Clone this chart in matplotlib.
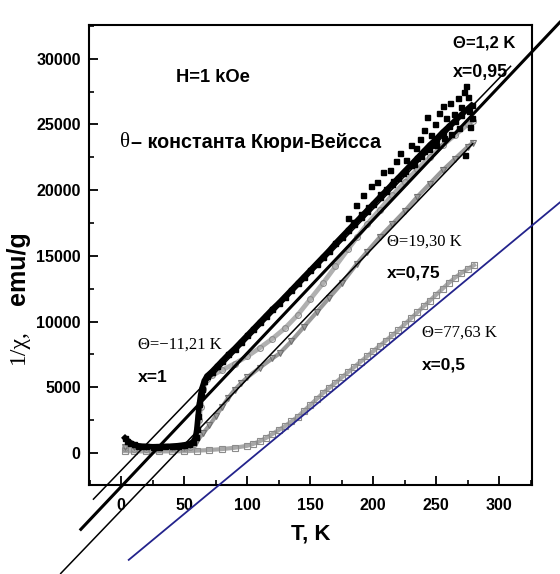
import matplotlib
matplotlib.use("Agg")
import matplotlib.pyplot as plt
from matplotlib import font_manager
from matplotlib.ticker import MultipleLocator

installed = {f.name for f in font_manager.fontManager.ttflist}
SANS = 'Liberation Sans Narrow' if 'Liberation Sans Narrow' in installed else 'Liberation Sans'
NARROW = SANS == 'Liberation Sans Narrow'
SERIF = 'Liberation Serif'


def fs(size):
    """Font size for the bold sans labels (the narrow face runs larger)."""
    return size * 1.2 if NARROW else size


# ---- inverse susceptibility data, 1/chi (emu/g)^-1 vs T (K) ----
# x = 1 : sharp step near 62 K
T_x1 = [3, 5, 7, 10, 13, 16, 20, 25, 30, 35, 40, 45, 50, 54, 57, 59, 60, 61, 62, 63,
        64, 66, 68, 72, 76, 80, 85, 90, 95, 100, 105, 110, 115, 120, 125, 130, 135,
        140, 145, 150, 155, 160, 165, 170, 175, 180, 185, 190, 195, 200, 205, 210,
        215, 220, 225, 230, 235, 240, 245, 250, 255, 260, 265, 270, 275, 278]
chi_x1 = [1150, 950, 800, 650, 560, 520, 500, 480, 490, 500, 520, 560, 620, 700, 850,
          1200, 1800, 2800, 3700, 4400, 4900, 5500, 5850, 6200, 6600, 7000, 7500, 7950,
          8450, 8950, 9450, 9950, 10450, 10950, 11400, 11900, 12400, 12900, 13400,
          13900, 14400, 14900, 15400, 15950, 16450, 16950, 17450, 17950, 18450, 18950,
          19450, 19950, 20450, 20950, 21450, 21950, 22450, 22950, 23450, 23900, 24400,
          24850, 25300, 25750, 26200, 26450]
# x = 1 : noisy high-temperature readings
T_x1_hi = [180, 186, 192, 198, 203, 208, 213, 218, 221, 226, 230, 234, 237, 240, 243,
           246, 249, 252, 255, 258, 261, 264, 267, 270, 272, 274, 275, 276, 277, 278,
           268, 262, 256, 250, 244, 238, 232, 224, 216, 210, 205, 196, 190, 184, 273]
chi_x1_hi = [17900, 18900, 19600, 20300, 20600, 21400, 21500, 22200, 22800, 22300,
             23400, 23200, 23900, 24600, 25600, 24200, 25000, 25900, 26400, 25500,
             26600, 25800, 27000, 26300, 27500, 27900, 27100, 26000, 24800, 25500,
             24700, 24300, 24000, 23400, 23100, 22600, 22000, 21300, 20700, 20100,
             19700, 18700, 18200, 17600, 22700]

# x = 0.95
T_x095 = [3, 10, 20, 30, 40, 50, 55, 58, 60, 62, 63, 64, 65, 66, 68, 72, 80, 90, 100,
          110, 120, 130, 140, 150, 160, 170, 180, 187, 195, 205, 215, 225, 235, 245,
          255, 265, 275, 279]
chi_x095 = [350, 330, 320, 330, 350, 400, 480, 700, 1200, 2500, 3500, 4300, 4900, 5300,
            5600, 5900, 6300, 6800, 7350, 8000, 8700, 9500, 10500, 11700, 12900, 14200,
            15500, 16400, 17400, 18500, 19600, 20600, 21600, 22500, 23400, 24200, 25000,
            25300]

# x = 0.75
T_x075 = [3, 10, 20, 30, 40, 50, 55, 60, 65, 70, 75, 80, 85, 90, 95, 100, 110, 120,
          126, 135, 145, 155, 165, 175, 187, 195, 205, 215, 225, 235, 245, 255, 265,
          275, 279]
chi_x075 = [480, 450, 440, 440, 450, 480, 600, 900, 1500, 2100, 2800, 3500, 4200, 4800,
            5300, 5750, 6500, 7200, 7600, 8500, 9600, 10700, 11800, 12900, 14400, 15300,
            16400, 17400, 18400, 19500, 20500, 21500, 22400, 23300, 23600]

# x = 0.5
T_x05 = [3, 10, 20, 30, 40, 50, 60, 70, 80, 90, 100, 105, 110, 115, 120, 125, 130, 135,
         140, 145, 150, 155, 160, 165, 170, 175, 180, 185, 190, 195, 200, 205, 210, 215,
         220, 225, 230, 235, 240, 245, 250, 255, 260, 265, 270, 275, 280]
chi_x05 = [150, 130, 120, 120, 130, 140, 180, 230, 300, 400, 550, 700, 900, 1150, 1450,
           1750, 2050, 2400, 2750, 3200, 3650, 4100, 4550, 4950, 5350, 5750, 6150, 6550,
           6950, 7350, 7750, 8150, 8550, 8950, 9350, 9800, 10250, 10700, 11150, 11600,
           12050, 12500, 12950, 13350, 13700, 14000, 14300]

# ---- Curie-Weiss fits: 1/chi = k * (T - theta) from the axis floor ----
theta = [-11.21, 1.2, 19.30, 77.63]
fit_slope = [99.5, 101.5, 100.0, 79.5]
fit_T_from = [-22, -32, -48, 6]
fit_T_to = [309, 348, 279, 348]
fit_color = ['black', 'black', 'black', '#23238c']
fit_width = [1.1, 2.2, 1.1, 1.3]

X_LIM = (-25.5, 326)
Y_LIM = (-2435, 32570)

fig = plt.figure(figsize=(5.6, 5.74), dpi=100)
ax = fig.add_axes([0.159, 0.155, 0.791, 0.8015])
ax.set_xlim(*X_LIM)
ax.set_ylim(*Y_LIM)

grey = '#8c8c8c'
ax.plot(T_x05, chi_x05, '-', color='#a8a8a8', lw=3.0, zorder=2)
ax.plot(T_x05, chi_x05, 's', ms=4, mfc='none', mec=grey, mew=0.8, zorder=3)
ax.plot(T_x075, chi_x075, '-', color='#9a9a9a', lw=3.0, zorder=2)
ax.plot(T_x075, chi_x075, 'v', ms=4, mfc='none', mec='#707070', mew=0.8, zorder=3)
ax.plot(T_x095, chi_x095, '-', color='#b0b0b0', lw=3.4, zorder=2)
ax.plot(T_x095, chi_x095, 'o', ms=4.2, mfc='none', mec=grey, mew=0.8, zorder=3)
ax.plot(T_x1, chi_x1, '-', color='black', lw=4.0, zorder=4)
ax.plot(T_x1, chi_x1, 's', ms=3.6, color='black', zorder=4)
ax.plot(T_x1_hi, chi_x1_hi, 's', ms=3.6, color='black', lw=0, zorder=4)

for th, k, t0, t1, c, w in zip(theta, fit_slope, fit_T_from, fit_T_to, fit_color, fit_width):
    ax.plot([t0, t1], [Y_LIM[0] + k * (t0 - th), Y_LIM[0] + k * (t1 - th)],
            color=c, lw=w, clip_on=False, zorder=5)

# axes styling
for s in ax.spines.values():
    s.set_linewidth(1.5)
ax.xaxis.set_major_locator(MultipleLocator(50))
ax.xaxis.set_minor_locator(MultipleLocator(25))
ax.yaxis.set_major_locator(MultipleLocator(5000))
ax.yaxis.set_minor_locator(MultipleLocator(2500))
ax.tick_params(which='major', direction='in', length=6.5, width=1.3, pad=6)
ax.tick_params(which='minor', direction='in', length=3.5, width=1.2)
ax.tick_params(axis='x', which='major', pad=9)
ax.set_xlim(*X_LIM)
ax.set_ylim(*Y_LIM)
for lab in ax.get_xticklabels() + ax.get_yticklabels():
    lab.set_fontfamily(SANS)
    lab.set_fontweight('bold')
    lab.set_fontsize(fs(11.5))

ax.set_xlabel('T, K', fontfamily=SANS, fontweight='bold', fontsize=fs(16), labelpad=8)

# y label: serif symbol part + bold sans units
fig.text(18 / 560, 1 - 347 / 574, '1/χ,', family=SERIF, fontsize=17, rotation=90,
         ha='center', va='center')
fig.text(18 / 560, 1 - 268 / 574, 'emu/g', family=SANS, fontweight='bold', fontsize=18,
         rotation=90, ha='center', va='center')

# annotations
bold = dict(family=SANS, fontweight='bold')
ax.text(73, 28540, 'H=1 kOe', ha='center', va='center', fontsize=fs(13.2), **bold)
ax.text(-0.8, 23590, 'θ', ha='left', va='center', fontsize=15, family=SERIF)
ax.text(8, 23590, '– константа Кюри-Вейсса', ha='left', va='center', fontsize=fs(14.2), **bold)

ax.text(263.5, 31200, 'Θ=1,2 K', ha='left', va='center', fontsize=fs(12), **bold)
ax.text(263.5, 28920, 'x=0,95', ha='left', va='center', fontsize=fs(12.8), **bold)
ax.text(13.5, 8220, 'Θ=−11,21 K', ha='left', va='center', fontsize=12, family=SERIF)
ax.text(13.5, 5710, 'x=1', ha='left', va='center', fontsize=fs(12.6), **bold)
ax.text(211, 16060, 'Θ=19,30 K', ha='left', va='center', fontsize=12, family=SERIF)
ax.text(211, 13700, 'x=0,75', ha='left', va='center', fontsize=fs(12.4), **bold)
ax.text(239, 9130, 'Θ=77,63 K', ha='left', va='center', fontsize=12, family=SERIF)
ax.text(239, 6700, 'x=0,5', ha='left', va='center', fontsize=fs(12.4), **bold)

fig.savefig('out.png', dpi=100)
